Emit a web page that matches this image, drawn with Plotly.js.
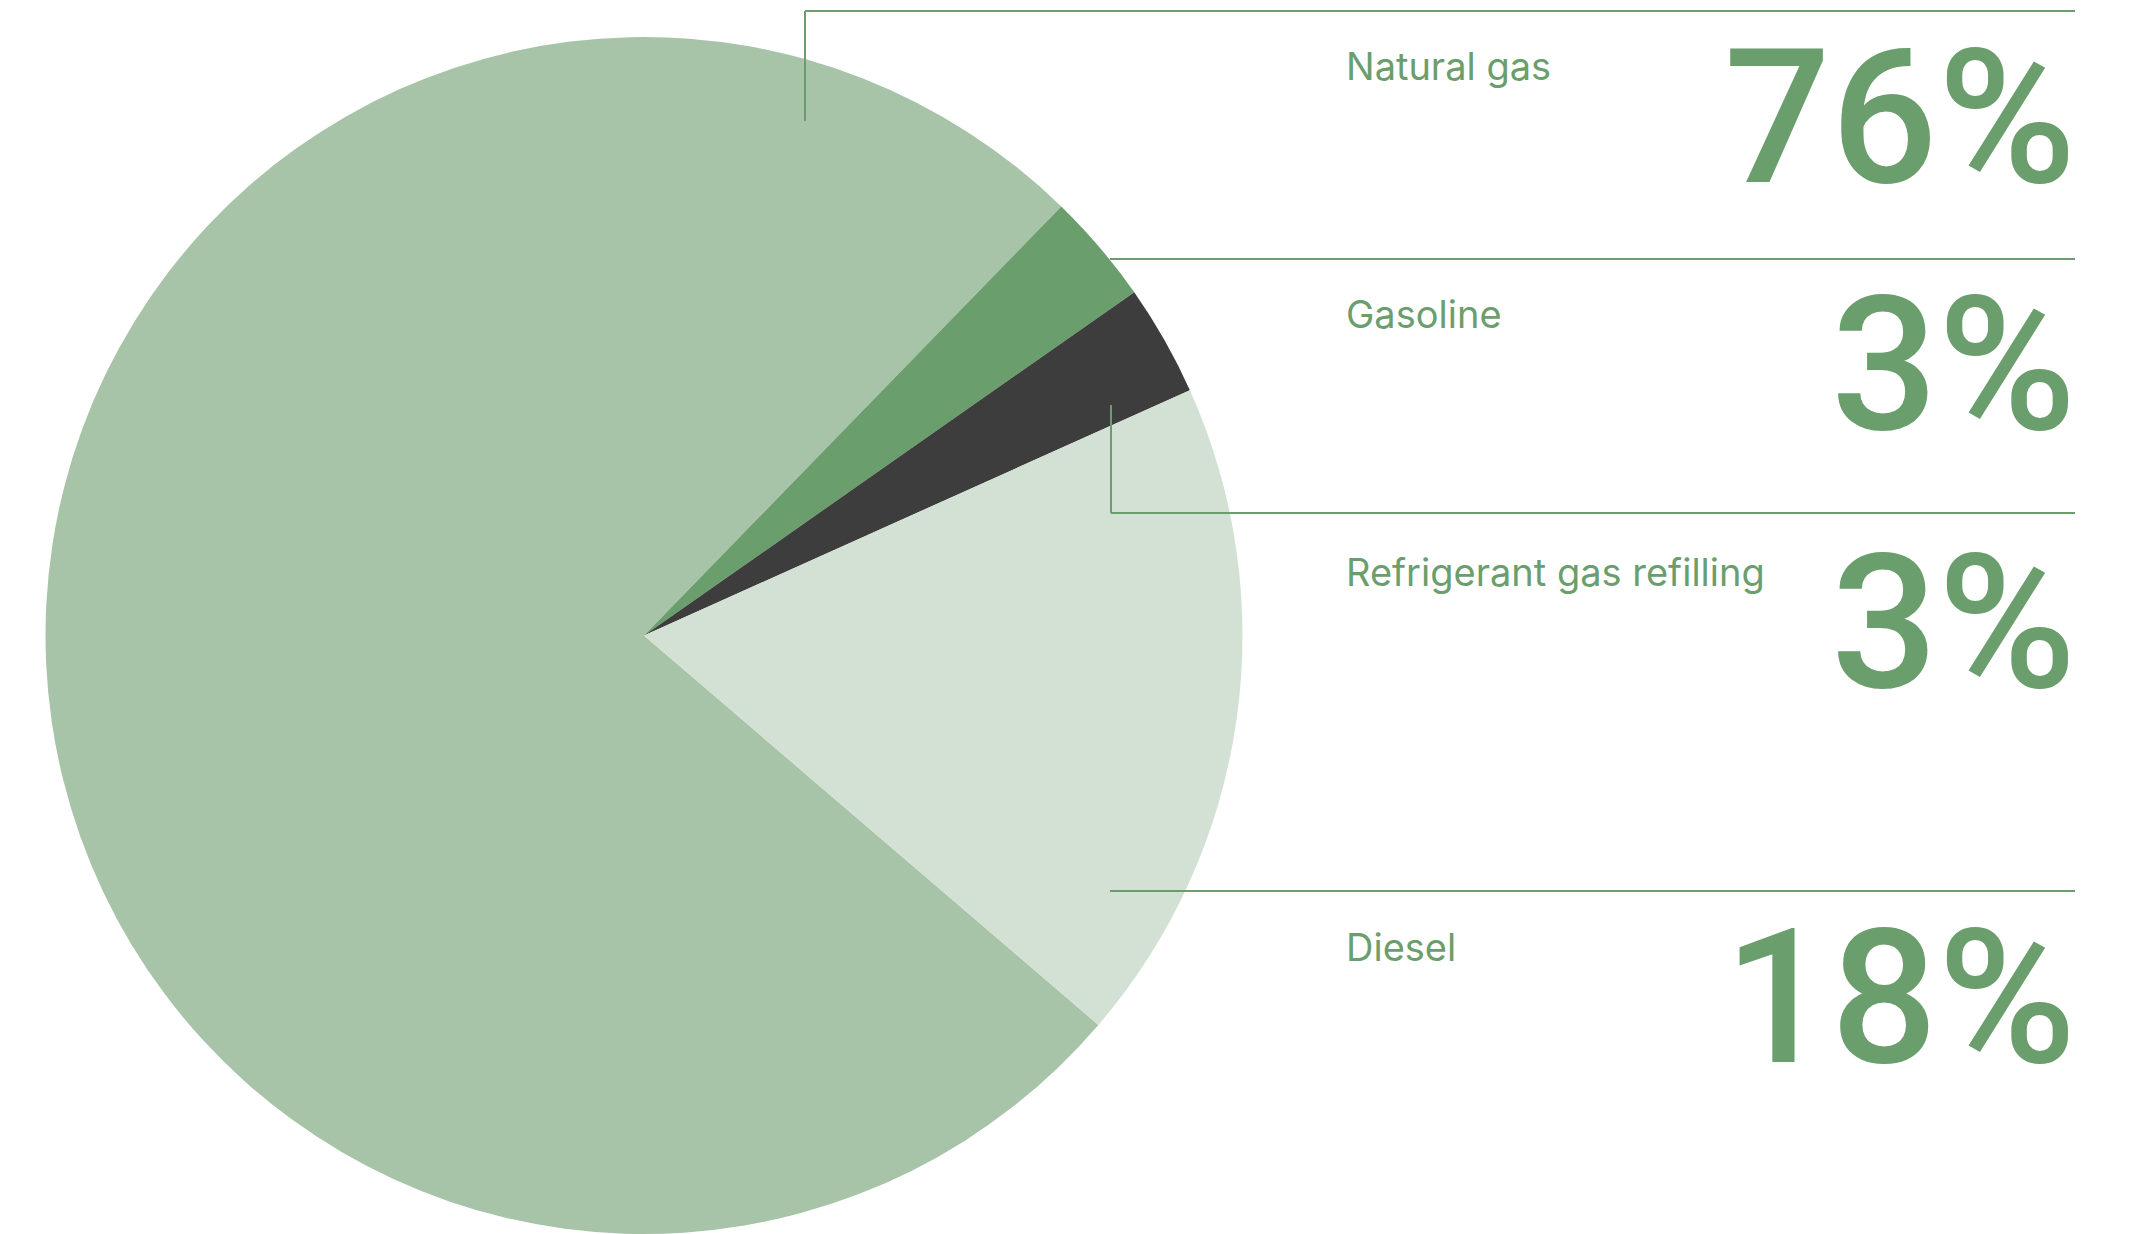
<!DOCTYPE html>
<html>
<head>
<meta charset="utf-8">
<script src="https://cdn.plot.ly/plotly-3.0.1.min.js"></script>
<style>
  html, body { margin: 0; padding: 0; background: #ffffff; overflow: hidden; }
  #chart { width: 2137px; height: 1234px; }
</style>
</head>
<body>
<div id="chart"></div>
<script>
// ---- Data ----
const categories = ["Natural gas", "Gasoline", "Refrigerant gas refilling", "Diesel"];
const shares = [76, 3, 3, 18];
const sliceColors = ["#a7c4a8", "#6b9e6d", "#3d3d3d", "#d3e1d4"];

// ---- Layout helpers (pixel -> paper) ----
const W = 2137, H = 1234;
const px = x => x / W;
const py = y => 1 - y / H;
const green = "#6b9e6d";

// pie geometry
const pieCx = 644, pieTop = 37, pieR = 598.5;

const trace = {
  type: "pie",
  labels: categories,
  values: shares,
  sort: false,
  direction: "clockwise",
  rotation: 130.6,
  marker: { colors: sliceColors, line: { width: 0 } },
  textinfo: "none",
  hoverinfo: "label+percent",
  showlegend: false,
  domain: { x: [px(pieCx - pieR), px(pieCx + pieR)], y: [Math.max(0, py(pieTop + 2 * pieR)), py(pieTop)] }
};

// label rows: y positions (px, middle of cap height) for names and values
const rowNameY = [66, 314, 571.5, 946.5];
const rowValueY = [117.5, 365, 622.5, 998];

const annotations = [];
categories.forEach((c, i) => {
  annotations.push({
    xref: "paper", yref: "paper", x: px(1344), y: py(rowNameY[i]),
    xanchor: "left", yanchor: "middle", showarrow: false, text: c,
    font: { family: "Inter, 'Liberation Sans', sans-serif", size: 38, weight: 400, color: green }
  });
  annotations.push({
    xref: "paper", yref: "paper", x: px(2078), y: py(rowValueY[i]),
    xanchor: "right", yanchor: "middle", showarrow: false, text: shares[i] + "%",
    font: { family: "Roboto, 'Liberation Sans', sans-serif", size: 188, weight: 500, color: green }
  });
});

const lineStyle = { color: green, width: 2 };
const seg = (x0, y0, x1, y1) => ({
  type: "line", xref: "paper", yref: "paper",
  x0: px(x0), y0: py(y0), x1: px(x1), y1: py(y1), line: lineStyle, layer: "above"
});
const shapes = [
  seg(805, 11, 805, 121), seg(805, 11, 2075, 11),
  seg(1110, 259, 2075, 259),
  seg(1111, 405, 1111, 513), seg(1111, 513, 2075, 513),
  seg(1110, 891, 2075, 891)
];

const layout = {
  width: W, height: H,
  margin: { l: 0, r: 0, t: 0, b: 0 },
  paper_bgcolor: "#ffffff",
  plot_bgcolor: "#ffffff",
  showlegend: false,
  annotations: annotations,
  shapes: shapes
};

Plotly.newPlot("chart", [trace], layout, { displayModeBar: false, staticPlot: true });
</script>
</body>
</html>
